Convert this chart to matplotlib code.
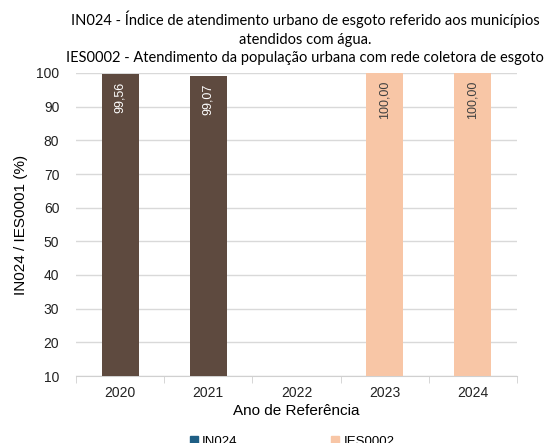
import numpy as np
import matplotlib
matplotlib.use("Agg")
import matplotlib.pyplot as plt
from matplotlib.patches import Patch

plt.rcParams['font.family'] = ['Liberation Sans', 'DejaVu Sans']

anos = ['2020', '2021', '2022', '2023', '2024']
in024 = [99.56, 99.07, np.nan, np.nan, np.nan]
ies0002 = [np.nan, np.nan, np.nan, 100.00, 100.00]

titulo = ('IN024 - Índice de atendimento urbano de esgoto referido aos municípios\n'
          'atendidos com água.\n'
          'IES0002 - Atendimento da população urbana com rede coletora de esgoto')

cor_in024_barra = '#5e4a3f'
cor_in024_leg = '#1f5f85'
cor_ies = '#f8c6a6'

fig = plt.figure(figsize=(5.49, 4.43), dpi=100)
ax = fig.add_axes([76 / 549, 1 - 376 / 443, (517 - 76) / 549, (376 - 73) / 443])

x = np.arange(len(anos))
larg = 0.42
ax.bar(x, in024, width=larg, color=cor_in024_barra, zorder=3)
ax.bar(x, ies0002, width=larg, color=cor_ies, zorder=3)

# rótulos dentro das barras, perto do topo
for i, v in enumerate(in024):
    if not np.isnan(v):
        ax.text(i, v - 2.3, f'{v:.2f}'.replace('.', ','), rotation=90, ha='center', va='top',
                color='white', fontsize=9, zorder=4)
for i, v in enumerate(ies0002):
    if not np.isnan(v):
        ax.text(i, v - 2.3, f'{v:.2f}'.replace('.', ','), rotation=90, ha='center', va='top',
                color='#404040', fontsize=9, zorder=4)

ax.set_ylim(10, 100)
ax.set_yticks(np.arange(10, 101, 10))
ax.set_xlim(-0.5, len(anos) - 0.5)
ax.set_xticks(x)
ax.set_xticklabels(anos)
ax.set_xticks(np.arange(-0.5, len(anos), 1), minor=True)
ax.tick_params(axis='x', which='major', length=0, labelsize=10, pad=7, colors='#222222')
ax.tick_params(axis='x', which='minor', length=5, color='#d0d0d0')
ax.tick_params(axis='y', length=0, labelsize=10, pad=12, colors='#222222')
ax.grid(axis='y', color='#d9d9d9', linewidth=1, zorder=0)
for s in ['top', 'right', 'left']:
    ax.spines[s].set_visible(False)
ax.spines['bottom'].set_color('#d0d0d0')

ax.set_xlabel('Ano de Referência', fontsize=11, labelpad=3)
ax.set_ylabel('IN024 / IES0001 (%)', fontsize=11, labelpad=6)

fig.text(0.556, 1 - 38 / 443, titulo, ha='center', va='center', fontsize=10.5,
         linespacing=1.4, family=['Lato', 'DejaVu Sans'])

handles = [Patch(color=cor_in024_leg, label='IN024'), Patch(color=cor_ies, label='IES0002')]
fig.legend(handles=handles, loc='center', bbox_to_anchor=(0.532, 0.003), ncol=2, frameon=False,
           fontsize=9.5, handlelength=0.6, handleheight=0.6, columnspacing=7.15, handletextpad=0.3)

fig.savefig('out.png', dpi=100)
